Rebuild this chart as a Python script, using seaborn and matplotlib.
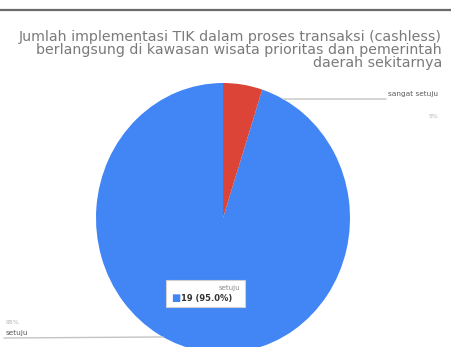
import numpy as np
import matplotlib
matplotlib.use("Agg")
import matplotlib.pyplot as plt
from matplotlib.patches import Rectangle
from matplotlib.lines import Line2D
import seaborn as sns

# ---- data ----
categories = ["setuju", "sangat setuju"]
counts = [19, 1]
percent_labels = ["95%", "5%"]
slice_colors = ["#4285F4", "#DB4437"]
title_lines = [
    "Jumlah implementasi TIK dalam proses transaksi (cashless)",
    "berlangsung di kawasan wisata prioritas dan pemerintah",
    "daerah sekitarnya",
]
tooltip_title = "setuju"
tooltip_value = "19 (95.0%)"

sns.set_theme(style="white")
plt.rcParams["font.family"] = ["DejaVu Sans"]

W, H = 451, 347
fig = plt.figure(figsize=(W / 100, H / 100), dpi=100)
fig.patch.set_facecolor("white")


def fx(x):
    return x / W


def fy(y):
    return 1 - y / H


# top separator line
fig.add_artist(Line2D([0, 1], [fy(10), fy(10)], color="#6b6b6b", lw=1.6,
                      transform=fig.transFigure))

# title (right aligned, as in reference layout)
fig.text(fx(442), fy(30), "\n".join(title_lines), ha="right", va="top",
         fontsize=10.2, color="#7a7a7a", linespacing=0.9)

# pie axes
cx, cy, rx, ry = 223, 218, 127, 135
ax = fig.add_axes([fx(cx - rx), fy(cy + ry), 2 * rx / W, 2 * ry / H])
wedges, _ = ax.pie(counts, colors=slice_colors, startangle=90,
                   counterclock=True, radius=1.0,
                   wedgeprops=dict(linewidth=0))
ax.set_aspect("auto")
ax.set_xlim(-1, 1)
ax.set_ylim(-1, 1)
ax.axis("off")

# leader lines and labels
a_top = np.deg2rad(61.8)
ax.annotate("", xy=(np.cos(a_top), np.sin(a_top)), xycoords="data",
            xytext=(fx(386), fy(99)), textcoords="figure fraction",
            arrowprops=dict(arrowstyle="-", color="#c4c4c4", lw=1.0,
                            shrinkA=0, shrinkB=0), annotation_clip=False)
fig.text(fx(438), fy(97), categories[1], ha="right", va="bottom",
         fontsize=5.3, color="#5a5a5a")
fig.text(fx(438), fy(117), percent_labels[1], ha="right", va="center",
         fontsize=4.5, color="#b0b0b0")

a_bot = np.deg2rad(241.8)
ax.annotate("", xy=(np.cos(a_bot), np.sin(a_bot)), xycoords="data",
            xytext=(fx(4), fy(338)), textcoords="figure fraction",
            arrowprops=dict(arrowstyle="-", color="#c4c4c4", lw=1.0,
                            shrinkA=0, shrinkB=0), annotation_clip=False)
fig.text(fx(6), fy(336), categories[0], ha="left", va="bottom",
         fontsize=5.3, color="#5a5a5a")
fig.text(fx(6), fy(323), percent_labels[0], ha="left", va="center",
         fontsize=4.5, color="#b0b0b0")

# tooltip box
fig.add_artist(Rectangle((fx(166), fy(307)), fx(245) - fx(166), fy(280) - fy(307),
                         transform=fig.transFigure, facecolor="white",
                         edgecolor="#d0d0d0", lw=0.8, zorder=5))
fig.text(fx(240), fy(288), tooltip_title, ha="right", va="center",
         fontsize=5, color="#8a8a8a", zorder=6)
fig.text(fx(171), fy(298), "\u25A0", ha="left", va="center",
         fontsize=7, color=slice_colors[0], zorder=6)
fig.text(fx(181), fy(298), tooltip_value, ha="left", va="center",
         fontsize=6, color="#333333", fontweight="bold", zorder=6)

fig.savefig("out.png", dpi=100, facecolor="white")
